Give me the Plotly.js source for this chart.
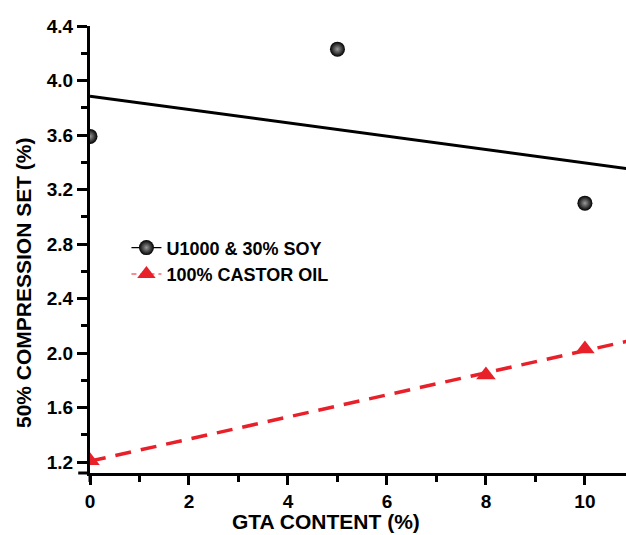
<!DOCTYPE html>
<html>
<head>
<meta charset="utf-8">
<script src="https://cdn.plot.ly/plotly-3.0.1.min.js"></script>
<style>html,body{margin:0;padding:0;background:#fff}#chart{width:626px;height:535px}</style>
</head>
<body>
<div id="chart"></div>
<script>
// Data
const soyName = "U1000 & 30% SOY";
const soyGTA = [0, 5, 10];
const soySet = [3.59, 4.23, 3.10];

const castorName = "100% CASTOR OIL";
const castorGTA = [0, 8, 10];
const castorSet = [1.21, 1.84, 2.03];

const xTickVals = [0, 2, 4, 6, 8, 10];
const yTickVals = [1.2, 1.6, 2.0, 2.4, 2.8, 3.2, 3.6, 4.0, 4.4];

const xTitle = 'GTA CONTENT (%)';
const yTitle = '50% COMPRESSION SET (%)';

const xRange = [0, 10.83];
const yRange = [1.12, 4.4];

// least-squares linear fit
function fit(xs, ys) {
  const n = xs.length;
  const mx = xs.reduce((a, b) => a + b, 0) / n;
  const my = ys.reduce((a, b) => a + b, 0) / n;
  let sxy = 0, sxx = 0;
  for (let i = 0; i < n; i++) { sxy += (xs[i] - mx) * (ys[i] - my); sxx += (xs[i] - mx) ** 2; }
  const b = sxy / sxx, a = my - b * mx;
  const fx = [xRange[0], xRange[1] + 0.5];
  return { x: fx, y: fx.map(v => a + b * v) };
}
// split points with nulls so legend shows line+marker but no connecting segments
function apart(arr) { const out = []; arr.forEach((v, i) => { if (i) out.push(null); out.push(v); }); return out; }

const soyFit = fit(soyGTA, soySet);
const castorFit = fit(castorGTA, castorSet);
const red = '#e8202a';
const FONT = 'Liberation Sans, Arial, sans-serif';

const traces = [
  { x: soyFit.x, y: soyFit.y, mode: 'lines', line: { color: '#000', width: 3 }, showlegend: false, hoverinfo: 'skip' },
  { x: castorFit.x, y: castorFit.y, mode: 'lines', line: { color: red, width: 3.5, dash: '16px,10px' }, showlegend: false, hoverinfo: 'skip' },
  { x: apart(soyGTA), y: apart(soySet), name: soyName, mode: 'lines+markers', connectgaps: false,
    line: { color: '#000', width: 1.2 },
    marker: { symbol: 'circle', size: 15, color: '#000', gradient: { type: 'radial', color: '#9a9a9a' }, line: { width: 0 } } },
  { x: apart(castorGTA), y: apart(castorSet), name: castorName, mode: 'lines+markers', connectgaps: false,
    line: { color: red, width: 1.2, dash: '5px,4px' },
    marker: { symbol: 'triangle-up', size: 17, color: red, line: { width: 0 } } }
];

const tickFont = { family: FONT, size: 19, color: '#000', weight: 'bold' };
const titleFont = { family: FONT, size: 21, color: '#000', weight: 'bold' };
const layout = {
  width: 626, height: 535,
  margin: { l: 90, r: 0, t: 26, b: 62 },
  paper_bgcolor: '#fff', plot_bgcolor: '#fff',
  showlegend: true,
  legend: { x: 0.068, y: 0.545, xanchor: 'left', yanchor: 'top', bgcolor: 'rgba(0,0,0,0)',
    font: { family: FONT, size: 18, color: '#000', weight: 'bold' },
    tracegroupgap: 0, itemwidth: 30 },
  xaxis: {
    range: xRange, tickvals: xTickVals, ticktext: xTickVals.map(String),
    showgrid: false, zeroline: false, showline: true, linecolor: '#000', linewidth: 3,
    ticks: 'outside', ticklen: 9, tickwidth: 3, tickcolor: '#000',
    minor: { dtick: 1, ticks: 'outside', ticklen: 6, tickwidth: 3, tickcolor: '#000', showgrid: false },
    tickfont: tickFont
  },
  yaxis: {
    range: yRange, tickvals: yTickVals, ticktext: yTickVals.map(v => v.toFixed(1)),
    showgrid: false, zeroline: false, showline: true, linecolor: '#000', linewidth: 3,
    ticks: 'outside', ticklen: 10, tickwidth: 3, tickcolor: '#000',
    minor: { dtick: 0.2, tick0: 1.2, ticks: 'outside', ticklen: 6, tickwidth: 3, tickcolor: '#000', showgrid: false },
    tickfont: tickFont
  },
  annotations: [
    { text: xTitle, xref: 'paper', yref: 'paper', x: 0.44, y: -0.108, xanchor: 'center', yanchor: 'middle', showarrow: false, font: titleFont },
    { text: yTitle, xref: 'paper', yref: 'paper', x: -0.125, y: 0.425, xanchor: 'center', yanchor: 'middle', textangle: -90, showarrow: false, font: titleFont }
  ],
  shapes: [
    { type: 'line', xref: 'paper', yref: 'paper', x0: -0.022, x1: 0, y0: 0, y1: 0, line: { color: '#000', width: 3 } },
    { type: 'line', xref: 'paper', yref: 'paper', x0: 0, x1: 0, y0: -0.02, y1: 0, line: { color: '#000', width: 3 } }
  ]
};

Plotly.newPlot('chart', traces, layout, { displayModeBar: false, staticPlot: true });
</script>
</body>
</html>
